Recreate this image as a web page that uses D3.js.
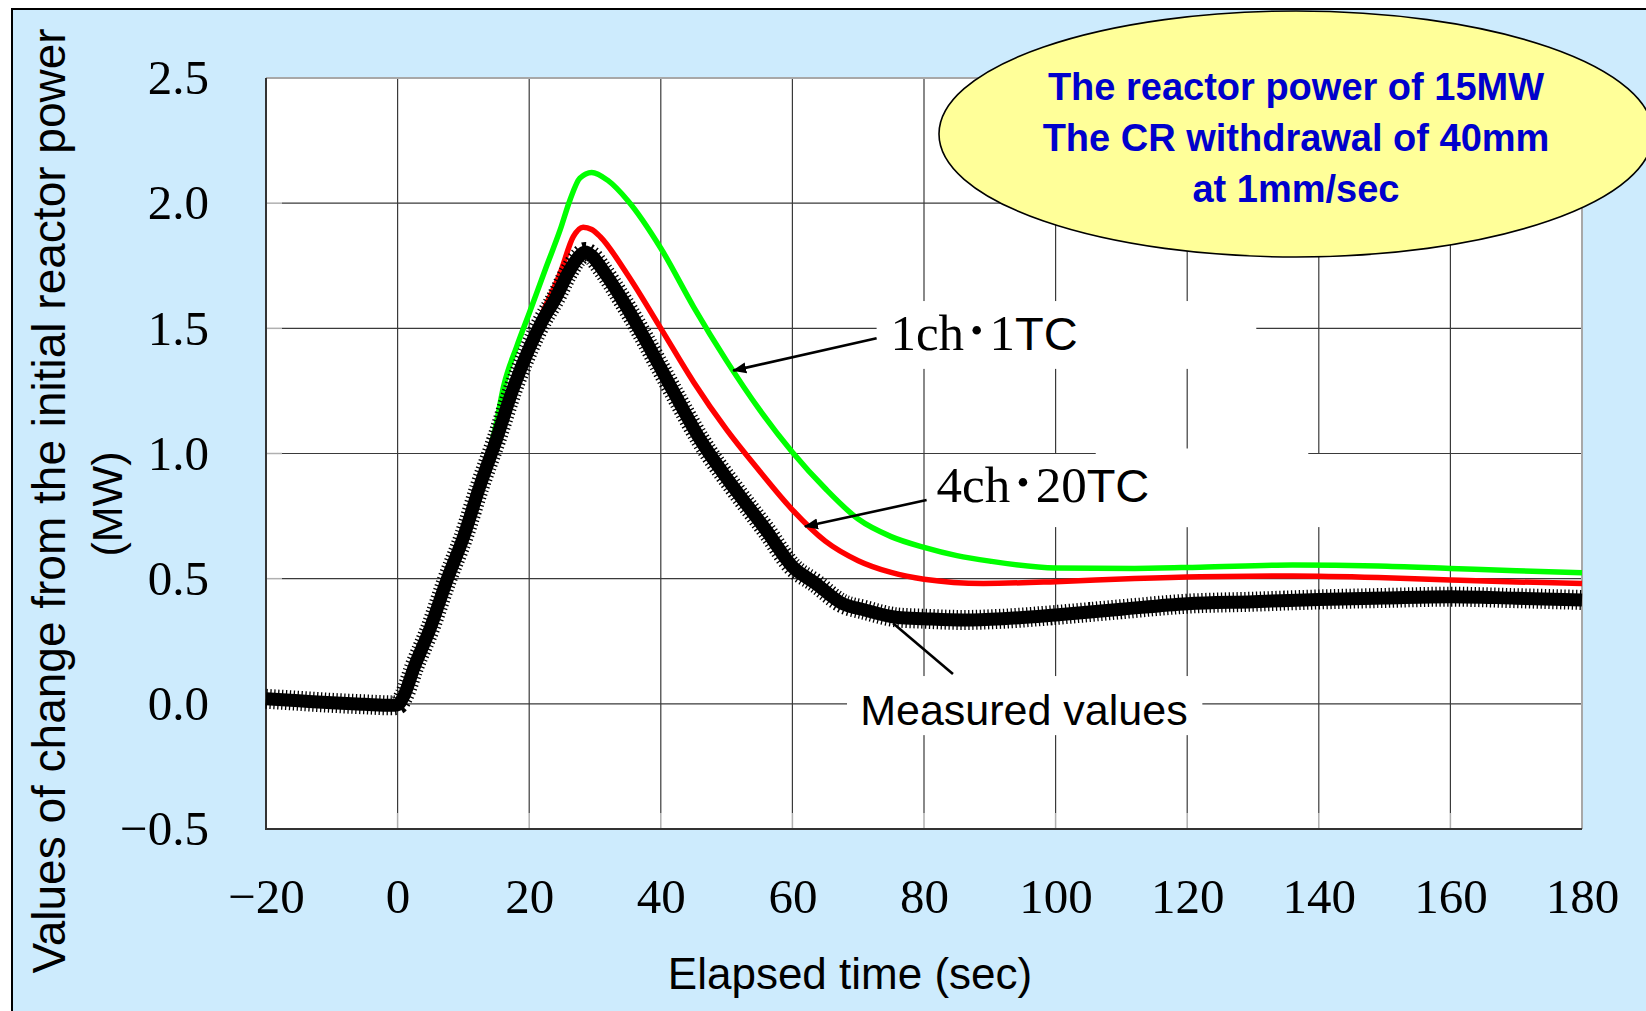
<!DOCTYPE html>
<html>
<head>
<meta charset="utf-8">
<script src="https://cdn.jsdelivr.net/npm/d3@7"></script>
<style>
  body { margin: 0; background: #fff; }
  svg { display: block; }
</style>
</head>
<body>
<section></section>
<script>
// measured reactor power change (black band)
var measuredTime  = [-20, -15, -10, -5, -1, 0, 1, 2.5, 5, 7.5, 10, 12.5, 15, 17.5, 20, 22, 24, 26, 27.5, 28.5,
                     29.5, 31, 34, 37, 40, 43, 46, 51, 56, 60, 63.5, 67.5, 71, 76, 80, 86, 92, 100, 110, 120,
                     130, 140, 150, 160, 170, 180];
var measuredPower = [0.020, 0.012, 0.004, -0.002, -0.006, -0.004, 0.035, 0.145, 0.305, 0.495, 0.665, 0.870, 1.055, 1.255, 1.420, 1.530, 1.620, 1.725, 1.785, 1.805,
                     1.790, 1.740, 1.620, 1.485, 1.340, 1.195, 1.055, 0.867, 0.694, 0.548, 0.482, 0.402, 0.375, 0.345, 0.340, 0.335, 0.340, 0.355, 0.378, 0.400,
                     0.408, 0.417, 0.423, 0.428, 0.422, 0.415];

// 1ch-1TC calculation (green)
var tc1Time  = [-20, -10, 0, 1, 2.5, 5, 7.5, 10, 12.5, 15, 16.1, 18.1, 20, 22.6, 24.7, 26.2, 27.7, 29.5, 32, 35,
                40, 45, 50, 55, 60, 65, 70, 75, 80, 85, 90, 100, 112, 122, 136, 149, 160, 170, 180];
var tc1Power = [0.015, 0.005, -0.003, 0.035, 0.140, 0.300, 0.490, 0.665, 0.880, 1.120, 1.267, 1.427, 1.560, 1.746, 1.893, 2.013, 2.100, 2.123, 2.090, 2.010,
                1.820, 1.585, 1.370, 1.175, 1.005, 0.860, 0.738, 0.668, 0.625, 0.592, 0.570, 0.543, 0.541, 0.546, 0.555, 0.551, 0.541, 0.532, 0.524];

// 4ch-20TC calculation (red)
var tc20Time  = [-20, -10, 0, 1, 2.5, 5, 7.5, 10, 12.5, 15, 17.5, 20, 22, 24.7, 26.7, 28.2, 29.5, 30.8, 34.8, 40,
                 45, 50, 55, 60, 65, 70, 75, 80, 89, 100, 112, 122, 136, 149, 160, 170, 180];
var tc20Power = [0.015, 0.005, -0.003, 0.035, 0.140, 0.300, 0.490, 0.665, 0.870, 1.060, 1.260, 1.430, 1.560, 1.720, 1.866, 1.904, 1.895, 1.866, 1.720, 1.500,
                 1.285, 1.095, 0.930, 0.775, 0.650, 0.572, 0.525, 0.498, 0.481, 0.488, 0.501, 0.508, 0.511, 0.505, 0.495, 0.487, 0.481];

var xTicks = [-20, 0, 20, 40, 60, 80, 100, 120, 140, 160, 180];
var yTicks = [-0.5, 0, 0.5, 1.0, 1.5, 2.0, 2.5];
var noteLines = ["The reactor power of 15MW", "The CR withdrawal of 40mm", "at 1mm/sec"];

var W = 1646, H = 1011;
var margin = {top: 78, right: 64, bottom: 182, left: 266},
  width = W - margin.left - margin.right,
  height = H - margin.top - margin.bottom;

var serif = "'Liberation Serif', 'Times New Roman', serif",
  sans = "'Liberation Sans', Arial, sans-serif";

var svg = d3.select("section").append("svg")
  .attr("width", W)
  .attr("height", H);

// light blue frame
svg.append("rect")
  .attr("x", 12).attr("y", 9)
  .attr("width", W + 20).attr("height", H + 20)
  .attr("fill", "#cdebfd")
  .attr("stroke", "#000")
  .attr("stroke-width", 2);

var g = svg.append("g")
  .attr("transform", "translate(" + margin.left + "," + margin.top + ")");

var x = d3.scaleLinear().domain([-20, 180]).range([0, width]);
var y = d3.scaleLinear().domain([-0.5, 2.5]).range([height, 0]);

g.append("rect")
  .attr("width", width).attr("height", height)
  .attr("fill", "#fff");

// grid
var tickLen = 16;
g.selectAll(".vgrid")
  .data(xTicks.slice(1, -1))
  .enter().append("line")
  .attr("x1", function(d) { return x(d); })
  .attr("x2", function(d) { return x(d); })
  .attr("y1", 0).attr("y2", height - tickLen)
  .attr("stroke", "#3a3a3a").attr("stroke-width", 1.2);

g.selectAll(".hgrid")
  .data(yTicks.slice(1, -1))
  .enter().append("line")
  .attr("x1", tickLen).attr("x2", width)
  .attr("y1", function(d) { return y(d); })
  .attr("y2", function(d) { return y(d); })
  .attr("stroke", "#3a3a3a").attr("stroke-width", 1.2);

// inner ticks
g.selectAll(".xtick")
  .data(xTicks)
  .enter().append("line")
  .attr("x1", function(d) { return x(d); })
  .attr("x2", function(d) { return x(d); })
  .attr("y1", height - tickLen).attr("y2", height)
  .attr("stroke", "#b0b0b0").attr("stroke-width", 1.5);

g.selectAll(".ytick")
  .data(yTicks)
  .enter().append("line")
  .attr("x1", 0).attr("x2", tickLen)
  .attr("y1", function(d) { return y(d); })
  .attr("y2", function(d) { return y(d); })
  .attr("stroke", "#b0b0b0").attr("stroke-width", 1.5);

// plot border: light top/right, dark left/bottom
g.append("path")
  .attr("d", "M0,0H" + width + "V" + height)
  .attr("fill", "none").attr("stroke", "#a8a8a8").attr("stroke-width", 2);
g.append("path")
  .attr("d", "M0,0V" + height + "H" + width)
  .attr("fill", "none").attr("stroke", "#333").attr("stroke-width", 2);

// axes labels
var xAxis = g.append("g")
  .attr("transform", "translate(0," + height + ")")
  .call(d3.axisBottom(x).tickValues(xTicks).tickSize(0).tickPadding(49).tickFormat(d3.format("d")));
var yAxis = g.append("g")
  .call(d3.axisLeft(y).tickValues(yTicks).tickSize(0).tickPadding(57).tickFormat(d3.format(".1f")));

[xAxis, yAxis].forEach(function(a) {
  a.select(".domain").remove();
  a.selectAll("text")
    .attr("fill", "#000")
    .style("font-family", serif)
    .style("font-size", "49px");
});

// white boxes behind annotation labels (they hide the grid)
var boxes = [
  [72.8, 130.5, 1.609, 1.338],
  [80.9, 140.9, 0.998, 0.706],
  [106.1, 138.4, 1.020, 0.706],
  [68.3, 122.3, 0.111, -0.125]
];
g.selectAll(".labelbox")
  .data(boxes)
  .enter().append("rect")
  .attr("x", function(d) { return x(d[0]); })
  .attr("y", function(d) { return y(d[2]); })
  .attr("width", function(d) { return x(d[1]) - x(d[0]); })
  .attr("height", function(d) { return y(d[3]) - y(d[2]); })
  .attr("fill", "#fff");

// curves
var line = d3.line()
  .x(function(d) { return x(d[0]); })
  .y(function(d) { return y(d[1]); })
  .curve(d3.curveMonotoneX);

g.append("path")
  .datum(d3.zip(tc1Time, tc1Power))
  .attr("d", line)
  .attr("fill", "none").attr("stroke", "#00ff00").attr("stroke-width", 5.5)
  .attr("stroke-linejoin", "round");

g.append("path")
  .datum(d3.zip(tc20Time, tc20Power))
  .attr("d", line)
  .attr("fill", "none").attr("stroke", "#ff0000").attr("stroke-width", 5.5)
  .attr("stroke-linejoin", "round");

var measured = d3.zip(measuredTime, measuredPower);
g.append("path")
  .datum(measured)
  .attr("d", line)
  .attr("fill", "none").attr("stroke", "#000").attr("stroke-width", 13)
  .attr("stroke-linejoin", "round");
// serrated edge of the dense marker band
g.append("path")
  .datum(measured)
  .attr("d", line)
  .attr("fill", "none").attr("stroke", "#000").attr("stroke-width", 20)
  .attr("stroke-dasharray", "1.3 2.6");

// annotations
svg.append("defs").append("marker")
  .attr("id", "head")
  .attr("markerUnits", "userSpaceOnUse")
  .attr("viewBox", "0 -6 14 12")
  .attr("markerWidth", 14).attr("markerHeight", 12)
  .attr("refX", 13).attr("refY", 0)
  .attr("orient", "auto")
  .append("path")
  .attr("d", "M0,-5.5L14,0L0,5.5Z")
  .attr("fill", "#000");

var arrows = [
  {from: [72.8, 1.460], to: [51.0, 1.331], head: true},
  {from: [80.4, 0.814], to: [61.9, 0.708], head: true},
  {from: [84.4, 0.119], to: [75.3, 0.322], head: false}
];
g.selectAll(".arrow")
  .data(arrows)
  .enter().append("line")
  .attr("x1", function(d) { return x(d.from[0]); })
  .attr("y1", function(d) { return y(d.from[1]); })
  .attr("x2", function(d) { return x(d.to[0]); })
  .attr("y2", function(d) { return y(d.to[1]); })
  .attr("stroke", "#000").attr("stroke-width", 2.6)
  .attr("marker-end", function(d) { return d.head ? "url(#head)" : null; });

function tcLabel(t, v, pre, num) {
  var txt = g.append("text")
    .attr("x", x(t)).attr("y", y(v))
    .attr("fill", "#000")
    .style("font-family", serif)
    .style("font-size", "51px");
  txt.append("tspan").text(pre);
  txt.append("tspan").style("font-family", "'Noto Sans CJK JP', sans-serif").text("\uFF65");
  txt.append("tspan").text(num);
  txt.append("tspan").style("font-family", sans).style("font-size", "47px").text("TC");
}
tcLabel(74.9, 1.413, "1ch", "1");
tcLabel(81.9, 0.8075, "4ch", "20");

g.append("text")
  .attr("x", x(70.3)).attr("y", y(-0.085))
  .attr("fill", "#000")
  .style("font-family", sans)
  .style("font-size", "43px")
  .text("Measured values");

// axis titles
svg.append("text")
  .attr("x", 850).attr("y", 989)
  .attr("text-anchor", "middle")
  .style("font-family", sans).style("font-size", "44px")
  .text("Elapsed time (sec)");

svg.append("text")
  .attr("transform", "translate(65,501) rotate(-90)")
  .attr("text-anchor", "middle")
  .style("font-family", sans).style("font-size", "46px")
  .text("Values of change from the initial reactor power");
svg.append("text")
  .attr("transform", "translate(122,504) rotate(-90)")
  .attr("text-anchor", "middle")
  .style("font-family", sans).style("font-size", "43px")
  .text("(MW)");

// condition note
svg.append("ellipse")
  .attr("cx", 1296).attr("cy", 134)
  .attr("rx", 357).attr("ry", 123)
  .attr("fill", "#ffff99")
  .attr("stroke", "#000").attr("stroke-width", 1.6);

svg.selectAll(".note")
  .data(noteLines)
  .enter().append("text")
  .attr("x", 1296)
  .attr("y", function(d, i) { return 100 + i * 51; })
  .attr("text-anchor", "middle")
  .attr("fill", "#0000cc")
  .style("font-family", sans).style("font-weight", "bold").style("font-size", "38px")
  .text(function(d) { return d; });
</script>
</body>
</html>
